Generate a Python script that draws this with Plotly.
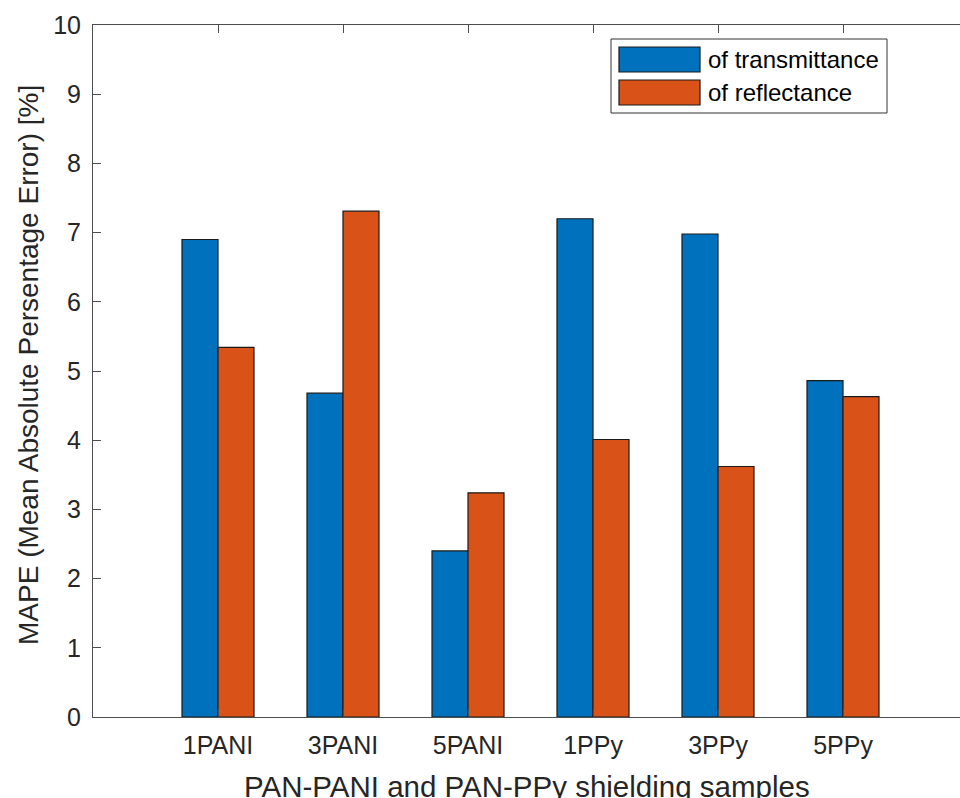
import plotly.graph_objects as go

# Samples and MAPE values (%)
samples = ["1PANI", "3PANI", "5PANI", "1PPy", "3PPy", "5PPy"]
mape_transmittance = [6.90, 4.68, 2.40, 7.20, 6.98, 4.86]
mape_reflectance = [5.34, 7.31, 3.24, 4.01, 3.62, 4.63]
series_names = ["of transmittance", "of reflectance"]
series_colors = ["#0072BD", "#D95319"]
y_ticks = list(range(0, 11))

W, H = 960, 798
L, R, T, B = 93, 0, 25, 81
FONT = "Liberation Sans, Arial, Helvetica, sans-serif"
TXT = "#262626"
AX = "#4d4d4d"

x_pos = list(range(1, len(samples) + 1))

fig = go.Figure()
for name, vals, col in zip(series_names, [mape_transmittance, mape_reflectance], series_colors):
    fig.add_trace(go.Bar(
        x=x_pos, y=vals, name=name, marker_color=col,
        marker_line_color="#1a1a1a", marker_line_width=1.2,
        showlegend=False,
    ))

fig.update_layout(
    width=W, height=H,
    margin=dict(l=L, r=R, t=T, b=B, pad=0),
    paper_bgcolor="white", plot_bgcolor="white",
    barmode="group", bargap=0.424, bargroupgap=0,
    font=dict(family=FONT, color=TXT, size=25),
)
fig.update_xaxes(
    range=[0, (W - L) / 125.0],
    tickmode="array", tickvals=x_pos, ticktext=samples,
    ticks="inside", ticklen=8, tickcolor=AX, tickwidth=1,
    showline=True, linecolor=AX, linewidth=1, mirror="ticks",
    showgrid=False, zeroline=False,
    tickfont=dict(size=25, color=TXT),
    ticklabelstandoff=6,
)
fig.update_yaxes(
    range=[0, 10],
    tickmode="array", tickvals=y_ticks,
    ticks="inside", ticklen=8, tickcolor=AX, tickwidth=1,
    showline=True, linecolor=AX, linewidth=1, mirror=False,
    showgrid=False, zeroline=False,
    tickfont=dict(size=25, color=TXT),
    ticklabelstandoff=6,
)


def px(xp):
    return (xp - L) / (W - L - R)


def py(yp):
    return (H - B - yp) / (H - T - B)


# Axis titles
fig.add_annotation(
    text="PAN-PANI and PAN-PPy shielding samples",
    xref="paper", yref="paper", x=0.5, y=py(805), xanchor="center", yanchor="bottom",
    showarrow=False, font=dict(size=29.5, color=TXT),
)
fig.add_annotation(
    text="MAPE (Mean Absolute Persentage Error) [%]",
    xref="paper", yref="paper", x=px(28), y=py(365), xanchor="center", yanchor="middle",
    textangle=-90, showarrow=False, font=dict(size=28, color=TXT),
)

# Legend box with wide swatches
fig.add_shape(type="rect", xref="paper", yref="paper",
              x0=px(611), x1=px(887), y0=py(113), y1=py(39),
              line=dict(color="#333333", width=1), fillcolor="white", layer="above")
for i, (name, col) in enumerate(zip(series_names, series_colors)):
    top = 47 + i * 33
    fig.add_shape(type="rect", xref="paper", yref="paper",
                  x0=px(619), x1=px(700), y0=py(top + 25), y1=py(top),
                  line=dict(color="#1a1a1a", width=1.2), fillcolor=col, layer="above")
    fig.add_annotation(text=name, xref="paper", yref="paper",
                       x=px(706), y=py(top + 12.5), xanchor="left", yanchor="middle",
                       showarrow=False, font=dict(size=24, color="black"))

fig.write_html("out.html")
